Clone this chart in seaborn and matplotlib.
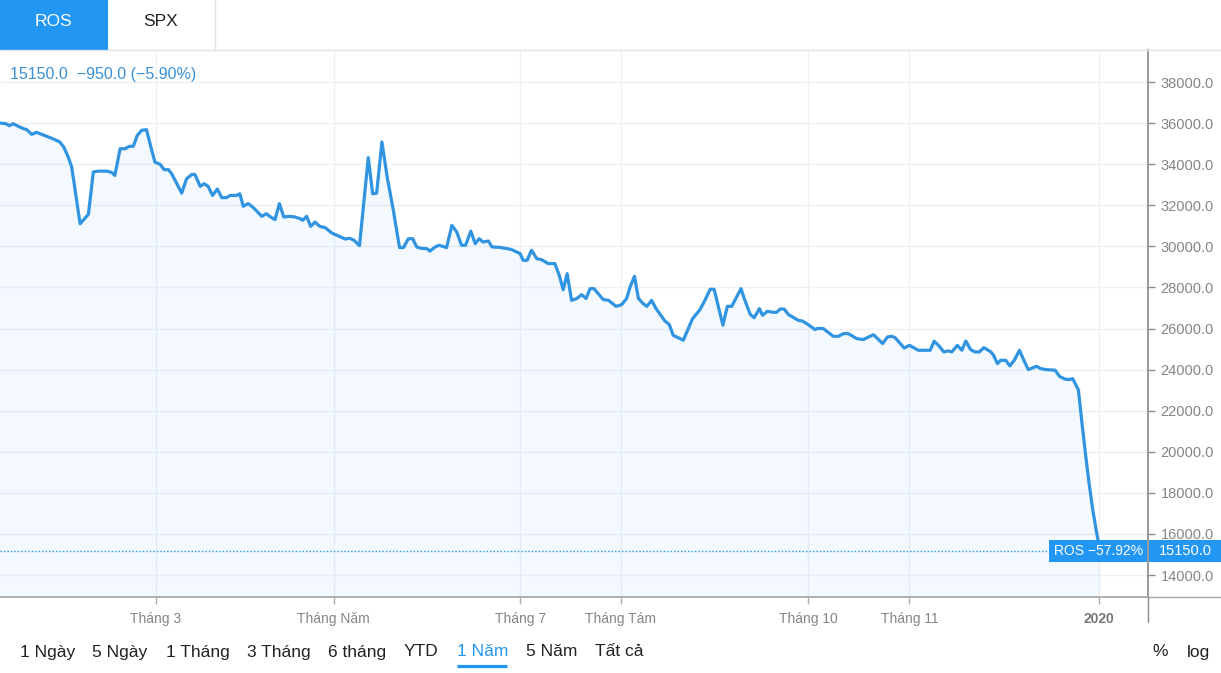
"""ROS one-year price chart, drawn with seaborn/matplotlib."""

import matplotlib
matplotlib.use("Agg")
import matplotlib.pyplot as plt
import matplotlib.transforms as mtransforms
from matplotlib.lines import Line2D
from matplotlib.patches import Rectangle
import pandas as pd
import seaborn as sns

# trading session index (one year) and closing price
session = [
    0.0, 1.4, 2.1, 3.0, 3.9, 5.3, 6.1, 7.2, 8.3, 9.5, 11.4, 12.5, 13.6, 14.5, 15.5, 16.3,
    18.2, 20.1, 21.2, 22.3, 24.3, 25.4, 26.1, 27.3, 28.4, 29.4, 30.3, 31.2, 32.2, 33.3,
    34.3, 35.2, 36.4, 37.3, 38.3, 39.0, 41.3, 42.4, 43.6, 44.3, 45.5, 46.4, 47.3, 48.3,
    49.4, 50.4, 51.5, 52.3, 53.8, 54.5, 55.3, 56.4, 57.6, 59.5, 60.5, 61.5, 62.5, 63.5,
    64.5, 65.8, 67.0, 68.2, 68.8, 69.7, 70.6, 71.6, 72.7, 73.9, 75.4, 78.4, 79.5, 80.5,
    81.7, 83.7, 84.7, 85.6, 86.8, 88.0, 89.4, 90.8, 91.7, 92.8, 93.8, 94.7, 95.8, 97.0,
    97.7, 98.9, 99.8, 101.5, 102.7, 103.8, 104.9, 105.8, 107.0, 108.0, 108.9, 109.8,
    111.0, 111.8, 113.6, 115.2, 116.3, 118.2, 118.9, 119.8, 120.8, 122.0, 123.1, 124.6,
    126.1, 127.1, 128.0, 128.9, 129.9, 131.1, 132.2, 133.2, 134.1, 135.0, 137.1, 138.3,
    140.0, 141.3, 142.4, 143.2, 144.2, 145.1, 146.2, 147.0, 148.1, 149.1, 151.1, 152.1,
    153.0, 155.3, 156.1, 157.4, 159.1, 160.2, 161.4, 162.3, 164.3, 165.3, 166.3, 168.4,
    169.3, 170.5, 171.4, 172.6, 173.3, 174.4, 175.6, 176.5, 177.3, 178.2, 179.2, 181.4,
    182.4, 183.9, 185.2, 185.8, 187.1, 189.4, 190.5, 191.7, 192.8, 194.7, 196.2, 198.5,
    200.0, 200.6, 201.7, 202.7, 203.4, 205.5, 206.7, 208.7, 211.4, 212.3, 213.3, 214.5,
    215.5, 216.3, 217.6, 218.6, 219.5, 220.6, 221.6, 222.6, 223.6, 225.2, 225.8, 226.7,
    227.4, 228.6, 229.5, 230.5, 231.7, 232.7, 233.7, 235.6, 236.5, 237.7, 239.8, 240.8,
    242.0, 243.0, 243.8, 245.1, 245.9, 246.7, 247.5, 248.3, 249.2, 250.0,
]
close = [
    36000, 35970, 35870, 35970, 35870, 35730, 35680, 35450, 35550, 35450, 35290, 35190,
    35080, 34830, 34350, 33860, 31100, 31560, 33620, 33660, 33660, 33600, 33450, 34750,
    34750, 34870, 34870, 35400, 35650, 35680, 34830, 34100, 33990, 33730, 33730, 33540,
    32590, 33290, 33500, 33500, 32920, 33050, 32920, 32480, 32790, 32370, 32370, 32480,
    32480, 32560, 31950, 32080, 31880, 31460, 31590, 31430, 31300, 32080, 31430, 31460,
    31430, 31350, 31270, 31460, 30970, 31180, 30970, 30910, 30650, 30360, 30390, 30290,
    30030, 34320, 32560, 32590, 35080, 33370, 31750, 29940, 29940, 30370, 30370, 29970,
    29900, 29890, 29770, 29970, 30050, 29940, 31020, 30700, 30050, 30050, 30740, 30130,
    30370, 30210, 30260, 29970, 29950, 29890, 29840, 29650, 29320, 29320, 29810, 29400,
    29350, 29160, 29160, 28590, 27890, 28670, 27370, 27460, 27650, 27460, 27940, 27940,
    27410, 27370, 27080, 27160, 27460, 28020, 28540, 27460, 27210, 27080, 27370, 26970,
    26370, 26200, 25670, 25430, 25830, 26480, 26920, 27370, 27910, 27910, 26160, 27080,
    27080, 27940, 27370, 26690, 26530, 26970, 26640, 26840, 26790, 26790, 26950, 26950,
    26680, 26400, 26360, 26160, 25950, 26000, 26000, 25620, 25620, 25750, 25750, 25510,
    25460, 25700, 25390, 25270, 25590, 25620, 25560, 25050, 25180, 24940, 24940, 25380,
    25180, 24860, 24910, 24860, 25180, 24940, 25390, 24970, 24860, 24860, 25070, 24860,
    24700, 24290, 24450, 24450, 24180, 24450, 24940, 24450, 24000, 24160, 24050, 24000,
    23970, 23670, 23540, 23510, 23560, 23000, 21400, 19900, 18500, 17250, 16100, 15150,
]

month_ticks = [35.4, 75.8, 118.2, 141.1, 183.7, 206.7, 249.8]
month_labels = ["Tháng 3", "Tháng Năm", "Tháng 7", "Tháng Tám", "Tháng 10", "Tháng 11", "2020"]
price_ticks = list(range(14000, 38001, 2000))
range_buttons = ["1 Ngày", "5 Ngày", "1 Tháng", "3 Tháng", "6 tháng", "YTD", "1 Năm", "5 Năm", "Tất cả"]
active_range = "1 Năm"
symbol = "ROS"
compare_symbol = "SPX"

BLUE = "#2196F3"
LINE_BLUE = "#3194e0"
GRID = "#eef0f3"
AXIS = "#8c8c8c"
TICK_TEXT = "#858585"

sns.set_theme(style="white")
plt.rcParams["font.family"] = ["Liberation Sans", "DejaVu Sans"]

W, H = 1221, 673
PX_PER_SESSION = 4.4

df = pd.DataFrame({"session": session, "close": close})
last = df["close"].iloc[-1]
prev = df["close"].iloc[-2]
first = df["close"].iloc[0]
chg = last - prev
chg_pct = chg / prev * 100
total_pct = (last / first - 1) * 100


def fmt(v, spec):
    return format(v, spec).replace("-", "\u2212")


fig = plt.figure(figsize=(W / 100, H / 100), dpi=100)
fig.patch.set_facecolor("white")
ax = fig.add_axes([0, 1 - 597 / H, 1148 / W, (597 - 50) / H])

ax.fill_between(df["session"], df["close"], 0, color=BLUE, alpha=0.05, lw=0)
sns.lineplot(data=df, x="session", y="close", ax=ax, color=LINE_BLUE,
             linewidth=2.3, estimator=None, sort=False)
ax.axhline(last, color=BLUE, lw=1, ls=(0, (1, 1.5)))

ax.set_xlim(0, 1148 / PX_PER_SESSION)
ax.set_ylim(12929, 39558)
ax.set_xlabel("")
ax.set_ylabel("")

# axes / grid
ax.set_xticks(month_ticks)
ax.set_xticklabels(month_labels)
ax.set_yticks(price_ticks)
ax.set_yticklabels([f"{v:.1f}" for v in price_ticks])
ax.yaxis.tick_right()
ax.grid(True, color=GRID, lw=1)
for s in ["top", "left"]:
    ax.spines[s].set_visible(False)
ax.spines["right"].set_color(AXIS)
ax.spines["bottom"].set_color("#a6a6a6")
ax.tick_params(axis="y", length=5, width=1, color=AXIS, labelcolor=TICK_TEXT,
               labelsize=10.5, pad=4, right=True)
ax.tick_params(axis="x", length=5, width=1, color="#b0b0b0", labelcolor=TICK_TEXT,
               labelsize=10, pad=6, bottom=True)
ax.get_xticklabels()[-1].set_fontweight("bold")
ax.get_xticklabels()[-1].set_color("#777777")

# axis line extensions
fig.add_artist(Line2D([1148 / W, 1], [1 - 597 / H] * 2, transform=fig.transFigure,
                      color="#a6a6a6", lw=1))
fig.add_artist(Line2D([1148 / W] * 2, [1 - 597 / H, 1 - 622 / H], transform=fig.transFigure,
                      color=AXIS, lw=1))

# last price labels
blend = mtransforms.blended_transform_factory(fig.transFigure, ax.transData)
box_h = 22 * (39558 - 12929) / 547
ax.add_patch(Rectangle((1049 / W, last - box_h / 2), 98 / W, box_h, transform=blend,
                       fc=BLUE, ec="none", clip_on=False, zorder=5))
ax.add_patch(Rectangle((1149 / W, last - box_h / 2), 72 / W, box_h, transform=blend,
                       fc=BLUE, ec="none", clip_on=False, zorder=5))
ax.text(1143 / W, last, f"{symbol} {fmt(total_pct, '.2f')}%", transform=blend,
        ha="right", va="center", color="white", fontsize=10, zorder=6)
ax.text(1159 / W, last, f"{last:.1f}", transform=blend, ha="left", va="center",
        color="white", fontsize=10.5, zorder=6)

# header tabs
fig.add_artist(Rectangle((0, 1 - 50 / H), 108 / W, 50 / H, transform=fig.transFigure,
                         fc=BLUE, ec="none"))
fig.add_artist(Line2D([0, 1], [1 - 50 / H] * 2, transform=fig.transFigure, color="#e0e3eb", lw=1))
fig.add_artist(Line2D([215 / W] * 2, [1 - 50 / H, 1], transform=fig.transFigure,
                      color="#e0e3eb", lw=1))
fig.text(53 / W, 1 - 21 / H, symbol, ha="center", va="center", color="white", fontsize=12.5)
fig.text(161 / W, 1 - 21 / H, compare_symbol, ha="center", va="center", color="#222222",
         fontsize=12.5)

# legend value line
fig.text(10 / W, 1 - 74 / H,
         f"{last:.1f}  {fmt(chg, '.1f')} ({fmt(chg_pct, '.2f')}%)",
         ha="left", va="center", color="#3a90d4", fontsize=11.5)

# range buttons
button_left = [20, 92, 166, 247, 328, 404, 457, 526, 595]
for label, xl in zip(range_buttons, button_left):
    active = label == active_range
    fig.text(xl / W, 1 - 652 / H, label, ha="left", va="center",
             color=BLUE if active else "#222222", fontsize=12.5)
    if active:
        fig.add_artist(Line2D([457 / W, 507 / W], [1 - 666 / H] * 2, transform=fig.transFigure,
                              color=BLUE, lw=2.3, solid_capstyle="butt"))
fig.text(1160 / W, 1 - 652 / H, "%", ha="center", va="center", color="#222222", fontsize=12.5)
fig.text(1198 / W, 1 - 652 / H, "log", ha="center", va="center", color="#222222", fontsize=12.5)

fig.savefig("out.png", dpi=100)
plt.close(fig)
